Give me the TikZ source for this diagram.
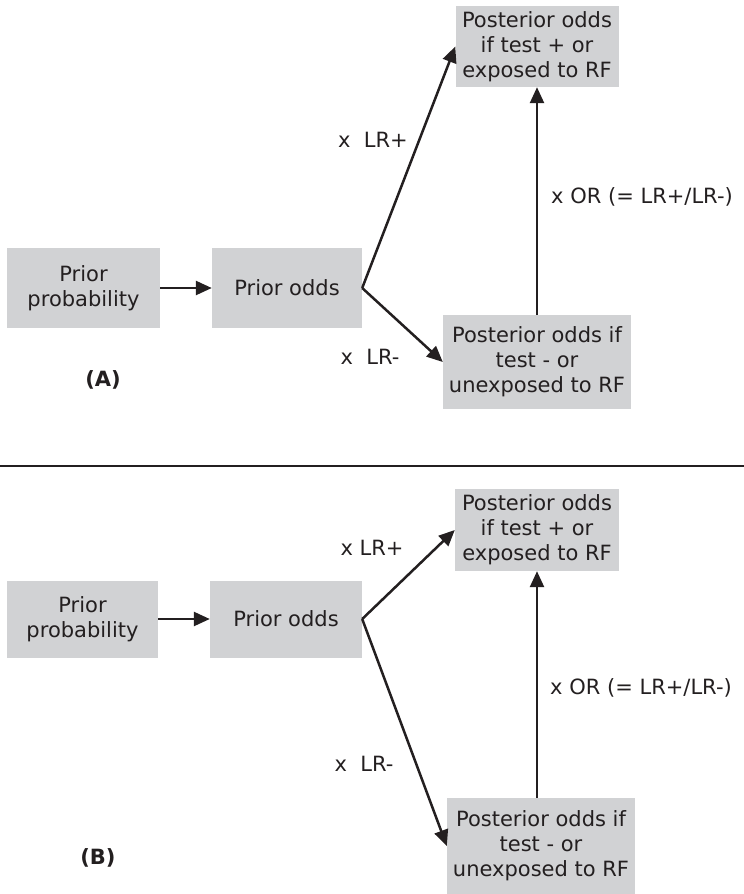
\documentclass[tikz,border=0pt]{standalone}
\usepackage{fontspec}
\setmainfont{DejaVu Sans}
\usetikzlibrary{arrows.meta}
\definecolor{boxgray}{RGB}{209,210,212}
\definecolor{ink}{RGB}{35,31,32}
\tikzset{
  box/.style={fill=boxgray, inner sep=0pt, align=center, font=\fontsize{21}{25}\selectfont, text=ink},
  arr/.style={draw=ink, line width=2.5pt, -{Triangle[length=16pt,width=14pt]}},
  lbl/.style={font=\fontsize{21}{25}\selectfont, text=ink, inner sep=0pt},
  panellbl/.style={font=\bfseries\fontsize{21}{25}\selectfont, text=ink, inner sep=0pt}
}
\begin{document}
\begin{tikzpicture}[x=1pt,y=-1pt]
\useasboundingbox (0,0) rectangle (744,894);
% ---------- Panel A ----------
\node[box, minimum width=153pt, minimum height=80pt] (ppA) at (83.5,288) {Prior\\probability};
\node[box, minimum width=150pt, minimum height=80pt] (poA) at (287,288) {Prior odds};
\node[box, minimum width=163pt, minimum height=81pt] (plA) at (537,46.5) {Posterior odds\\if test + or\\exposed to RF};
\node[box, minimum width=188pt, minimum height=94pt] (pmA) at (537,362) {Posterior odds if\\test - or\\unexposed to RF};
\node[lbl] (lpA) at (373,140) {x\ \ LR+};
\node[lbl] (lmA) at (370,357) {x\ \ LR-};
\node[lbl, anchor=west] (orA) at (551,197) {x OR (= LR+/LR-)};
\node[panellbl] (tA) at (103,380) {(A)};
\draw[arr] (ppA.east) -- (poA.west);
\draw[arr] (poA.east) -- (plA.west);
\draw[arr] (poA.east) -- (pmA.west);
\draw[arr] (pmA.north) -- (plA.south);
% ---------- separator ----------
\coordinate (sepL) at (0,466);
\coordinate (sepR) at (744,466);
\draw[draw=ink, line width=2pt] (sepL) -- (sepR);
% ---------- Panel B ----------
\node[box, minimum width=151pt, minimum height=77pt] (ppB) at (82.5,619) {Prior\\probability};
\node[box, minimum width=152pt, minimum height=77pt] (poB) at (286,619) {Prior odds};
\node[box, minimum width=164pt, minimum height=82pt] (plB) at (537,530) {Posterior odds\\if test + or\\exposed to RF};
\node[box, minimum width=188pt, minimum height=96pt] (pmB) at (541,846) {Posterior odds if\\test - or\\unexposed to RF};
\node[lbl] (lpB) at (372,548) {x LR+};
\node[lbl] (lmB) at (364,764) {x\ \ LR-};
\node[lbl, anchor=west] (orB) at (550,688) {x OR (= LR+/LR-)};
\node[panellbl] (tB) at (98,858) {(B)};
\draw[arr] (ppB.east) -- (poB.west);
\draw[arr] (poB.east) -- (plB.west);
\draw[arr] (poB.east) -- (pmB.west);
\draw[arr] (pmB.north -| plB.south) -- (plB.south);
\end{tikzpicture}
\end{document}
